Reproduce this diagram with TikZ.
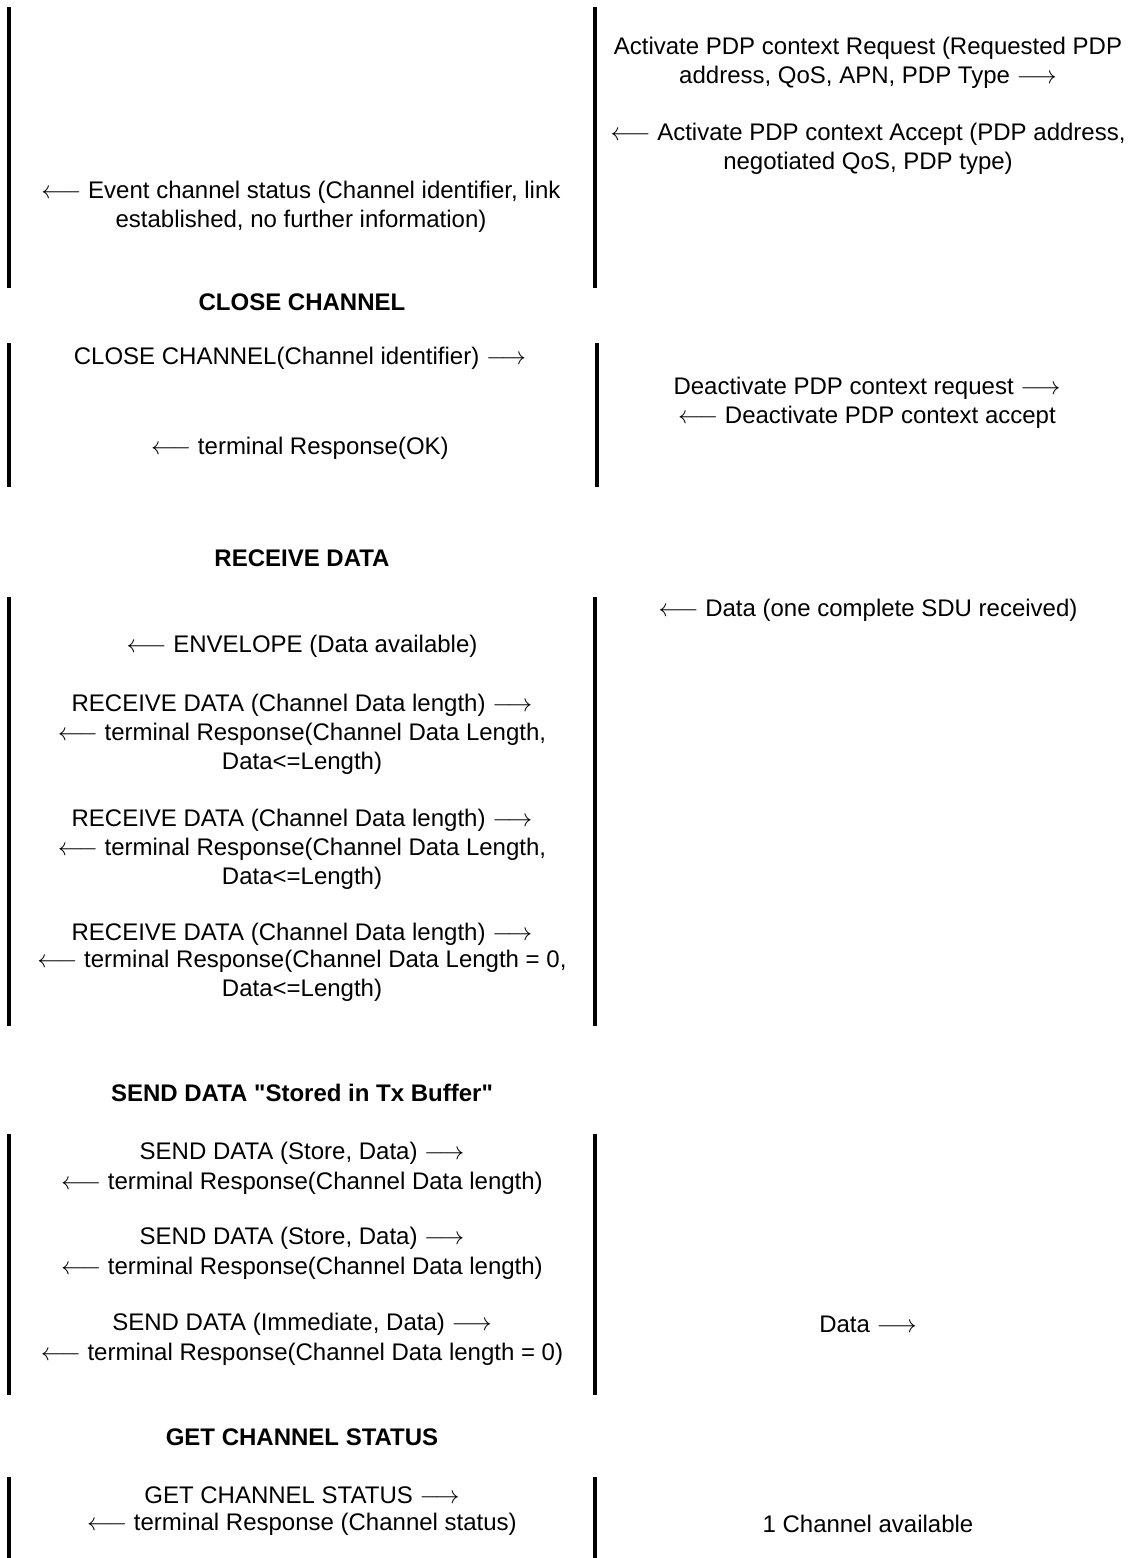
\documentclass[tikz,border=0pt]{standalone}
\usepackage{fontspec}
\setmainfont{Liberation Sans}[Ligatures=TeXOff]
\newcommand{\myra}{~$\longrightarrow$}
\newcommand{\myla}{$\longleftarrow$~}
\begin{document}
\begin{tikzpicture}[x=1pt,y=-1pt,
  msg/.style={font=\fontsize{24}{29}\selectfont, align=center, inner sep=0pt},
  head/.style={font=\fontsize{24}{29}\selectfont\bfseries, align=center, inner sep=0pt},
  lifeline/.style={line width=3.5pt}]
\useasboundingbox[fill=white] (0,0) rectangle (1136,1558);

% ---------- section 1
\coordinate (s1lt) at (9,7);   \coordinate (s1lb) at (9,288);
\coordinate (s1mt) at (595,7); \coordinate (s1mb) at (595,288);
\draw[lifeline] (s1lt) -- (s1lb);
\draw[lifeline] (s1mt) -- (s1mb);
\node[msg] (actreq) at (868,63) {Activate PDP context Request (Requested PDP\\address, QoS, APN, PDP Type\myra};
\node[msg] (actacc) at (868,149) {\myla Activate PDP context Accept (PDP address,\\negotiated QoS, PDP type)};
\node[msg] (evt) at (301,207) {\myla Event channel status (Channel identifier, link\\established, no further information)};

\node[head] (hclose) at (302,302) {CLOSE CHANNEL};

% ---------- section 2
\coordinate (s2lt) at (9,343);   \coordinate (s2lb) at (9,487);
\coordinate (s2mt) at (597,343); \coordinate (s2mb) at (597,487);
\draw[lifeline] (s2lt) -- (s2lb);
\draw[lifeline] (s2mt) -- (s2mb);
\node[msg] (closereq) at (300,358) {CLOSE CHANNEL(Channel identifier)\myra};
\node[msg] (closeresp) at (300,448) {\myla terminal Response(OK)};
\node[msg] (deact) at (867,403) {Deactivate PDP context request\myra\\\myla Deactivate PDP context accept};

\node[head] (hrecv) at (302,558) {RECEIVE DATA};

% ---------- section 3
\coordinate (s3lt) at (9,597);   \coordinate (s3lb) at (9,1026);
\coordinate (s3mt) at (595,597); \coordinate (s3mb) at (595,1026);
\draw[lifeline] (s3lt) -- (s3lb);
\draw[lifeline] (s3mt) -- (s3mb);
\node[msg] (sdu) at (868,610) {\myla Data (one complete SDU received)};
\node[msg] (env) at (302,646) {\myla ENVELOPE (Data available)};
\node[msg] (rd1) at (302,705) {RECEIVE DATA (Channel Data length)\myra};
\node[msg] (rr1) at (302,749) {\myla terminal Response(Channel Data Length,\\Data<=Length)};
\node[msg] (rd2) at (302,820) {RECEIVE DATA (Channel Data length)\myra};
\node[msg] (rr2) at (302,864) {\myla terminal Response(Channel Data Length,\\Data<=Length)};
\node[msg] (rd3) at (302,934) {RECEIVE DATA (Channel Data length)\myra};
\node[msg] (rr3) at (302,976) {\myla terminal Response(Channel Data Length = 0,\\Data<=Length)};

\node[head] (hsend) at (302,1093) {SEND DATA "Stored in Tx Buffer"};

% ---------- section 4
\coordinate (s4lt) at (9,1134);   \coordinate (s4lb) at (9,1395);
\coordinate (s4mt) at (595,1134); \coordinate (s4mb) at (595,1395);
\draw[lifeline] (s4lt) -- (s4lb);
\draw[lifeline] (s4mt) -- (s4mb);
\node[msg] (sd1) at (302,1153) {SEND DATA (Store, Data)\myra};
\node[msg] (sr1) at (302,1183) {\myla terminal Response(Channel Data length)};
\node[msg] (sd2) at (302,1238) {SEND DATA (Store, Data)\myra};
\node[msg] (sr2) at (302,1268) {\myla terminal Response(Channel Data length)};
\node[msg] (sd3) at (302,1324) {SEND DATA (Immediate, Data)\myra};
\node[msg] (sr3) at (302,1354) {\myla terminal Response(Channel Data length = 0)};
\node[msg] (data) at (868,1324) {Data\myra};

\node[head] (hget) at (302,1437) {GET CHANNEL STATUS};

% ---------- section 5
\coordinate (s5lt) at (9,1477);   \coordinate (s5lb) at (9,1558);
\coordinate (s5mt) at (595,1477); \coordinate (s5mb) at (595,1558);
\draw[lifeline] (s5lt) -- (s5lb);
\draw[lifeline] (s5mt) -- (s5mb);
\node[msg] (gcs) at (302,1495) {GET CHANNEL STATUS\myra};
\node[msg] (gcr) at (302,1524) {\myla terminal Response (Channel status)};
\node[msg] (avail) at (868,1524) {1 Channel available};
\end{tikzpicture}
\end{document}
